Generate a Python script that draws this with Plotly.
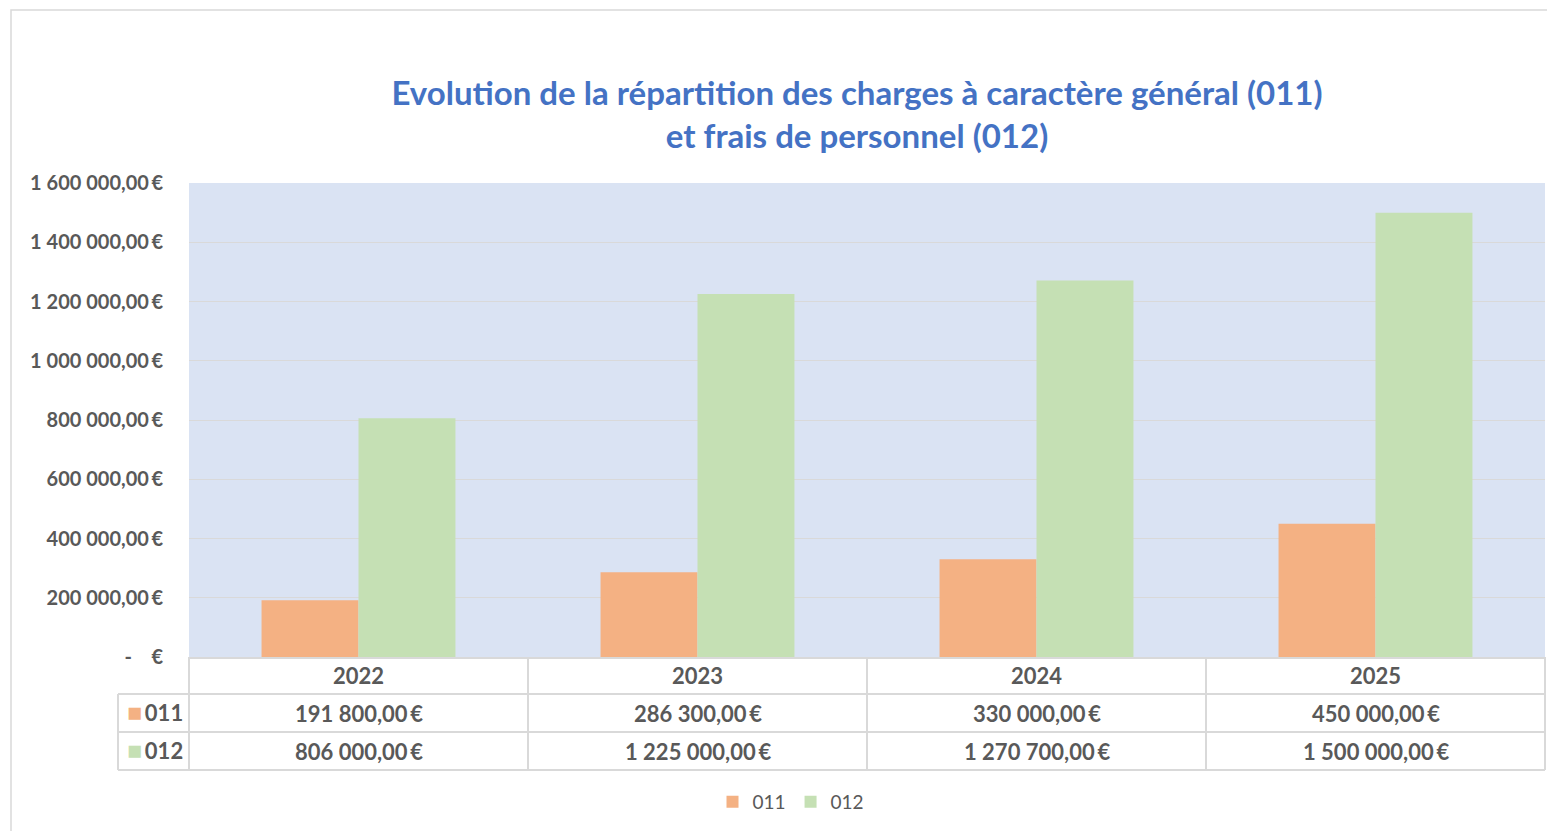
import plotly.graph_objects as go

categories = ["2022", "2023", "2024", "2025"]
series_names = ["011", "012"]
values_011 = [191800, 286300, 330000, 450000]
values_012 = [806000, 1225000, 1270700, 1500000]
tick_values = [0, 200000, 400000, 600000, 800000, 1000000, 1200000, 1400000, 1600000]

colors = {"011": "#F4B183", "012": "#C5E0B4"}
TXT = "#595959"
GRID = "#D9D9D9"
FONT = "Lato"


def fr(v):
    return f"{v:,.2f}".replace(",", "\u00a0").replace(".", ",") + "\u2009€"


tick_text = ["-\u00a0\u00a0\u00a0\u00a0€" if v == 0 else fr(v) for v in tick_values]

W, H = 1547, 831
L, R, T, B = 189, 2, 183, 174
PH = H - T - B
PW = W - L - R


def py(pix):
    return (H - B - pix) / PH


def px(pix):
    return (pix - L) / PW


fig = go.Figure()
for name, vals in [("011", values_011), ("012", values_012)]:
    fig.add_trace(go.Bar(x=categories, y=vals, name=name, marker_color=colors[name],
                         marker_line_width=0))

row_y = [py(675.5), py(713), py(751)]
lines_y = [py(694), py(732), py(770)]

cell_font = dict(family=FONT, size=22, color=TXT, weight="bold")
annotations = []
for i, c in enumerate(categories):
    for r, txt in enumerate([c, fr(values_011[i]), fr(values_012[i])]):
        annotations.append(dict(x=i, y=row_y[r], xref="x", yref="paper", text=txt,
                                xanchor="center", yanchor="middle",
                                showarrow=False, font=cell_font))
for j, name in enumerate(series_names):
    annotations.append(dict(x=px(185), y=row_y[j + 1], xref="paper", yref="paper",
                            xanchor="right", yanchor="middle", yshift=2,
                            text=f"<span style='color:{colors[name]};font-size:25px'>■</span>\u2009{name}",
                            showarrow=False, font=dict(family=FONT, size=22, color=TXT, weight="bold")))

shapes = []
# chart frame
shapes.append(dict(type="rect", xref="paper", yref="paper", x0=px(11), x1=px(1560),
                   y0=py(840), y1=py(10), line=dict(color=GRID, width=1.5), layer="below"))
# table horizontal lines
for yy in lines_y:
    shapes.append(dict(type="line", xref="paper", yref="paper", x0=px(118), x1=1,
                       y0=yy, y1=yy, line=dict(color=GRID, width=2)))
# vertical lines
for xx in [0, 1]:
    shapes.append(dict(type="line", xref="paper", yref="paper", x0=xx, x1=xx,
                       y0=0, y1=lines_y[-1], line=dict(color=GRID, width=2)))
for k in range(len(categories) - 1):
    shapes.append(dict(type="line", xref="x", yref="paper", x0=k + 0.5, x1=k + 0.5,
                       y0=0, y1=lines_y[-1], line=dict(color=GRID, width=2)))
shapes.append(dict(type="line", xref="paper", yref="paper", x0=px(118), x1=px(118),
                   y0=lines_y[0], y1=lines_y[-1], line=dict(color=GRID, width=2)))

fig.update_layout(
    width=W, height=H,
    margin=dict(l=L, r=R, t=T, b=B),
    paper_bgcolor="white",
    plot_bgcolor="#DAE3F3",
    barmode="group",
    bargap=0.428,
    bargroupgap=0,
    title=dict(text="Evolution de la répartition des charges à caractère général (011)<br>et frais de personnel (012)",
               x=857 / W, xanchor="center", xref="container",
               y=1 - 105 / H, yanchor="middle", yref="container",
               font=dict(family=FONT, size=33, color="#4472C4", weight="bold")),
    xaxis=dict(type="category", showticklabels=False, range=[-0.5, 3.5], showline=True,
               linecolor=GRID, linewidth=2, showgrid=False, zeroline=False, fixedrange=True),
    yaxis=dict(range=[0, 1600000], tickvals=tick_values, ticktext=tick_text,
               gridcolor=GRID, gridwidth=1, zeroline=False, showline=False,
               ticks="outside", ticklen=21, tickcolor="rgba(0,0,0,0)",
               tickfont=dict(family=FONT, size=20, color=TXT, weight="bold")),
    legend=dict(orientation="h", x=px(791), y=py(802), xanchor="center", yanchor="middle",
                font=dict(family=FONT, size=19, color=TXT), itemwidth=30,
                bgcolor="rgba(0,0,0,0)"),
    annotations=annotations,
    shapes=shapes,
    showlegend=True,
)

fig.write_html("out.html", config={"displayModeBar": False},
               post_script="document.body.style.margin='0';document.body.style.overflow='hidden';")
